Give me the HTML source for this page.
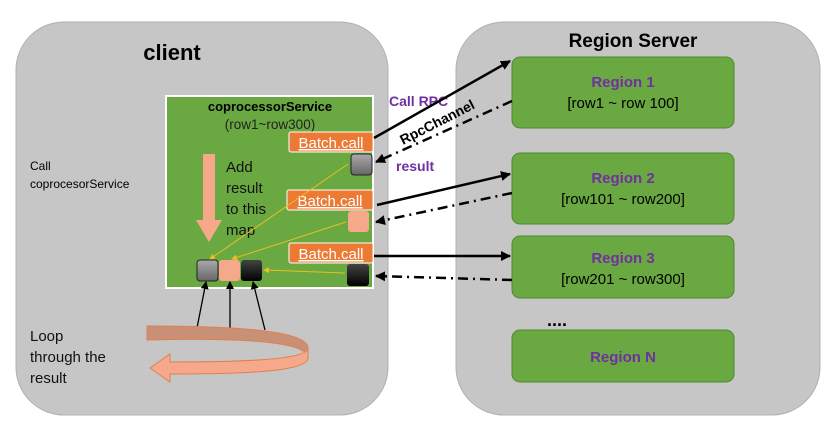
<!DOCTYPE html>
<html><head><meta charset="utf-8"><style>body{margin:0;background:#fff}svg{display:block}text{font-family:"Liberation Sans",sans-serif}</style></head><body>
<svg width="832" height="441" viewBox="0 0 832 441" xmlns="http://www.w3.org/2000/svg">
<defs>
<marker id="ah" markerWidth="8" markerHeight="8" refX="7" refY="4" orient="auto" markerUnits="userSpaceOnUse"><path d="M0,0 L8,4 L0,8 z" fill="#000"/></marker>
<marker id="ahs" markerWidth="10" markerHeight="10" refX="9" refY="5" orient="auto" markerUnits="userSpaceOnUse"><path d="M0,0 L10,5 L0,10 z" fill="#000"/></marker>
<marker id="ay" markerWidth="6" markerHeight="6" refX="5" refY="3" orient="auto" markerUnits="userSpaceOnUse"><path d="M0,0 L6,3 L0,6 z" fill="#e8c020"/></marker>
<linearGradient id="g1" x1="0" y1="0" x2="0" y2="1"><stop offset="0" stop-color="#aaa"/><stop offset="1" stop-color="#666"/></linearGradient>
<linearGradient id="g3" x1="0" y1="0" x2="0" y2="1"><stop offset="0" stop-color="#444"/><stop offset="1" stop-color="#000"/></linearGradient>
</defs>
<rect x="16" y="22" width="372" height="393" rx="48" fill="#c6c6c6" stroke="#b0b0b0"/>
<rect x="456" y="22" width="364" height="393" rx="48" fill="#c6c6c6" stroke="#b0b0b0"/>
<text x="172" y="60" font-size="22" font-weight="bold" text-anchor="middle">client</text>
<text x="633" y="47" font-size="19" font-weight="bold" text-anchor="middle">Region Server</text>
<text x="30" y="170" font-size="12">Call</text>
<text x="30" y="188" font-size="12">coprocesorService</text>
<rect x="166" y="96" width="207" height="192" fill="#6aa842" stroke="#fff" stroke-width="2"/>
<text x="270" y="111" font-size="13" font-weight="bold" text-anchor="middle">coprocessorService</text>
<text x="270" y="129" font-size="13.5" text-anchor="middle" fill="#222">(row1~row300)</text>
<g font-size="15" fill="#fff" text-anchor="middle" text-decoration="underline">
<rect x="289" y="132" width="84" height="20" rx="2" fill="#ec7a35" stroke="#fff"/><text x="331" y="148">Batch.call</text>
<rect x="287" y="190" width="86" height="20" rx="2" fill="#ec7a35" stroke="#fff"/><text x="330" y="206">Batch.call</text>
<rect x="289" y="243" width="84" height="20" rx="2" fill="#ec7a35" stroke="#fff"/><text x="331" y="259">Batch.call</text>
</g>
<path d="M203,154 h12 v66 h7 l-13,22 l-13,-22 h7z" fill="#f5a98a"/>
<g font-size="15" fill="#111"><text x="226" y="172">Add</text><text x="226" y="193">result</text><text x="226" y="214">to this</text><text x="226" y="235">map</text></g>
<rect x="351" y="154" width="21" height="21" rx="3" fill="url(#g1)" stroke="#222"/>
<rect x="348" y="211" width="21" height="21" rx="3" fill="#f5a98a"/>
<rect x="347" y="264" width="22" height="22" rx="3" fill="url(#g3)"/>
<rect x="197" y="260" width="21" height="21" rx="3" fill="url(#g1)" stroke="#222"/>
<rect x="219" y="260" width="21" height="21" rx="3" fill="#f5a98a"/>
<rect x="241" y="260" width="21" height="21" rx="3" fill="url(#g3)"/>
<g stroke="#e8c020" stroke-width="1" marker-end="url(#ay)">
<line x1="348" y1="164" x2="210" y2="259"/>
<line x1="346" y1="222" x2="232" y2="259"/>
<line x1="345" y1="273" x2="264" y2="270"/>
</g>
<g stroke="#000" stroke-width="1.3" marker-end="url(#ah)">
<line x1="197" y1="328" x2="206" y2="282"/>
<line x1="230" y1="328" x2="230" y2="282"/>
<line x1="265" y1="330" x2="253" y2="282"/>
</g>
<path d="M147,326 C230,326 308,330 308,348 L308,358 C308,340 230,338 147,340 Z" fill="#c99078" stroke="#e08050"/>
<path d="M308,348 L308,358 C308,372 240,374 170,374 L170,382 L150,368 L170,354 L170,362 C240,362 308,360 308,348 Z" fill="#f5a98a" stroke="#e08050"/>
<g font-size="15" fill="#111"><text x="30" y="341">Loop</text><text x="30" y="362">through the</text><text x="30" y="383">result</text></g>
<g fill="#6aa842" stroke="#4f8a2e">
<rect x="512" y="57" width="222" height="71" rx="8"/>
<rect x="512" y="153" width="222" height="71" rx="8"/>
<rect x="512" y="236" width="222" height="62" rx="8"/>
<rect x="512" y="330" width="222" height="52" rx="8"/>
</g>
<g text-anchor="middle" font-size="15">
<text x="623" y="87" font-weight="bold" fill="#7030a0">Region 1</text><text x="623" y="108">[row1 ~ row 100]</text>
<text x="623" y="183" font-weight="bold" fill="#7030a0">Region 2</text><text x="623" y="204">[row101 ~ row200]</text>
<text x="623" y="263" font-weight="bold" fill="#7030a0">Region 3</text><text x="623" y="284">[row201 ~ row300]</text>
<text x="623" y="362" font-weight="bold" fill="#7030a0">Region N</text>
</g>
<text x="557" y="326" font-size="18" font-weight="bold" text-anchor="middle">....</text>
<text x="389" y="106" font-size="14" font-weight="bold" fill="#7030a0">Call RPC</text>
<text x="396" y="171" font-size="14" font-weight="bold" fill="#7030a0">result</text>
<text x="0" y="0" font-size="14" font-weight="bold" transform="translate(403,145) rotate(-27)">RpcChannel</text>
<g stroke="#000" stroke-width="2.5" fill="none">
<line x1="374" y1="138" x2="510" y2="61" marker-end="url(#ahs)"/>
<line x1="377" y1="205" x2="510" y2="174" marker-end="url(#ahs)"/>
<line x1="374" y1="256" x2="510" y2="256" marker-end="url(#ahs)"/>
<line x1="512" y1="101" x2="376" y2="162" stroke-dasharray="10,5,2,5" marker-end="url(#ahs)"/>
<line x1="512" y1="193" x2="376" y2="222" stroke-dasharray="10,5,2,5" marker-end="url(#ahs)"/>
<line x1="512" y1="280" x2="376" y2="276" stroke-dasharray="10,5,2,5" marker-end="url(#ahs)"/>
</g>
</svg>
</body></html>
